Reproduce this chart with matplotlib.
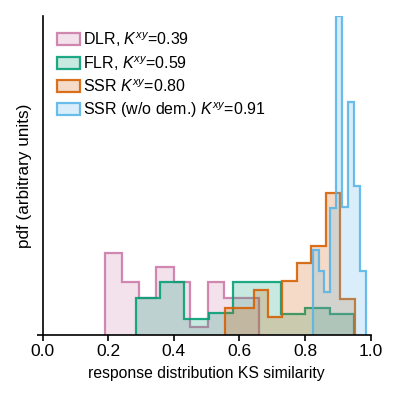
import matplotlib
matplotlib.use("Agg")
import matplotlib.pyplot as plt
from matplotlib.patches import Patch

plt.rcParams['font.family'] = ['Liberation Sans', 'DejaVu Sans']
plt.rcParams['mathtext.fontset'] = 'custom'
plt.rcParams['mathtext.it'] = 'Liberation Sans:italic'
plt.rcParams['mathtext.rm'] = 'Liberation Sans'

labels = [r'DLR, $K^{xy}$=0.39', r'FLR, $K^{xy}$=0.59', r'SSR $K^{xy}$=0.80', r'SSR (w/o dem.) $K^{xy}$=0.91']
colors = ['#cc79a7', '#009e73', '#d55e00', '#56b4e9']

dlr_edges = [0.190, 0.243, 0.295, 0.346, 0.399, 0.450, 0.503, 0.554, 0.605, 0.658]
dlr_vals = [82, 52.4, 37, 67.4, 52.4, 7.4, 52.4, 37, 37]

flr_edges = [0.284, 0.358, 0.432, 0.506, 0.580, 0.653, 0.727, 0.801, 0.875, 0.948]
flr_vals = [37, 52.4, 15.7, 21.4, 52.4, 52.4, 21, 26.7, 21]

ssr_edges = [0.556, 0.600, 0.644, 0.688, 0.731, 0.775, 0.819, 0.863, 0.907, 0.951]
ssr_vals = [26.5, 26.5, 44.5, 17.5, 53.7, 71.4, 88.7, 142, 36]

ssrw_edges = [0.823, 0.841, 0.859, 0.877, 0.895, 0.913, 0.932, 0.950, 0.968, 0.987]
ssrw_vals = [84.7, 64, 42.7, 127, 318.7, 128, 233, 149, 64]

series = [(dlr_vals, dlr_edges), (flr_vals, flr_edges), (ssr_vals, ssr_edges), (ssrw_vals, ssrw_edges)]

fig = plt.figure(figsize=(3.99, 3.99), dpi=100)
ax = fig.add_axes([0.107, 0.161, 0.822, 0.799])

handles = []
for (vals, edges), c, lab in zip(series, colors, labels):
    ax.stairs(vals, edges, fill=True, color=c, alpha=0.22, lw=0)
    ax.stairs(vals, edges, fill=False, color=c, alpha=0.88, lw=1.6, baseline=0)
    handles.append(Patch(facecolor=matplotlib.colors.to_rgba(c, 0.22), edgecolor=matplotlib.colors.to_rgba(c, 0.88), lw=1.6, label=lab))

ax.set_xlim(0, 1)
ax.set_ylim(0, max(ssrw_vals))
ax.set_xticks([0, 0.2, 0.4, 0.6, 0.8, 1.0])
ax.set_xticklabels(['0.0', '0.2', '0.4', '0.6', '0.8', '1.0'], fontsize=12.5)
ax.set_yticks([0])
ax.set_yticklabels([])
ax.tick_params(direction='out', length=4, width=1.2, pad=3)
for s in ['top', 'right']:
    ax.spines[s].set_visible(False)
for s in ['left', 'bottom']:
    ax.spines[s].set_linewidth(1.2)
ax.set_xlabel('response distribution KS similarity', fontsize=11.3, labelpad=5)
ax.set_ylabel('pdf (arbitrary units)', fontsize=12.3, labelpad=1)

ax.legend(handles=handles, loc='upper left', bbox_to_anchor=(0.025, 0.975), frameon=False,
          fontsize=11.5, handlelength=1.4, handleheight=0.75, handletextpad=0.2, labelspacing=0.33,
          borderaxespad=0)

fig.savefig('out.png', dpi=100)
